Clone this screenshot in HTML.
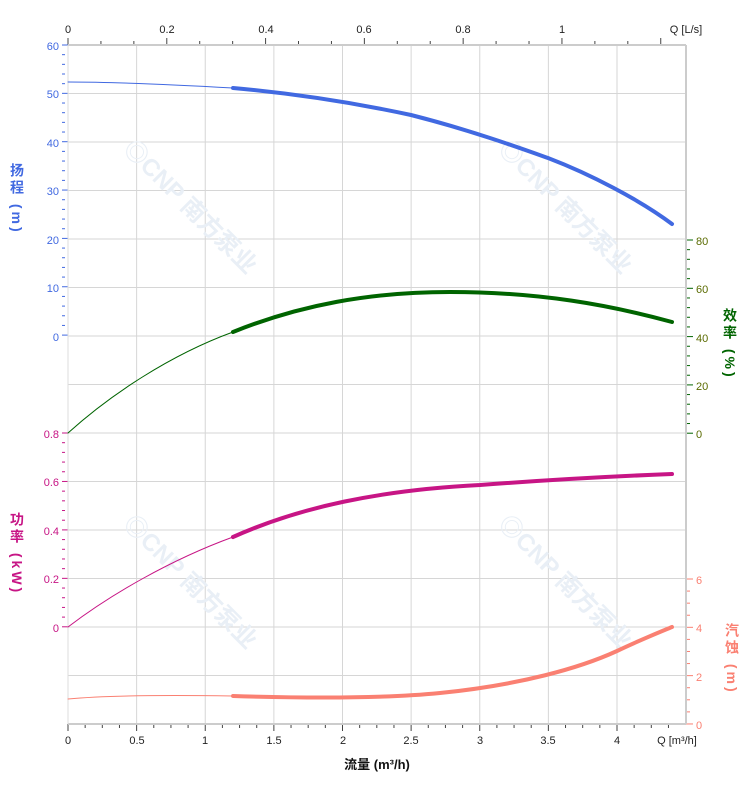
<!DOCTYPE html>
<html><head><meta charset="utf-8"><style>
body{margin:0;background:#fff;width:752px;height:797px;overflow:hidden}
svg{font-family:"Liberation Sans","Noto Sans CJK SC",sans-serif}
</style></head><body>
<svg id="s" width="752" height="797" xmlns="http://www.w3.org/2000/svg">
<g id="grid" stroke="#d6d6d6" stroke-width="1"></g>
<g font-size="24" font-weight="bold" fill="#e9eff6">
<text transform="translate(122,150) rotate(45)">◎CNP 南方泵业</text>
<text transform="translate(497,150) rotate(45)">◎CNP 南方泵业</text>
<text transform="translate(122,525) rotate(45)">◎CNP 南方泵业</text>
<text transform="translate(497,525) rotate(45)">◎CNP 南方泵业</text>
</g>
<g id="ticks" stroke-width="1"></g>
<line x1="68" y1="45" x2="686" y2="45" stroke="#ccc" stroke-width="2"/>
<line x1="68" y1="724" x2="686" y2="724" stroke="#ccc" stroke-width="2"/>
<line x1="686" y1="45" x2="686" y2="724" stroke="#ccc" stroke-width="2"/>
<line x1="68" y1="45" x2="68" y2="724" stroke="#ddd" stroke-width="1"/>
<g fill="none" stroke-linecap="round">
<path d="M68,82 C120,82 180,85 233,88" stroke="#4169e1" stroke-width="1"/>
<path d="M233,88 C300,94 360,104 411,115 C470,130 520,148 548,158 C590,174 640,200 672,224" stroke="#4169e1" stroke-width="4"/>
<path d="M68,433 C110,395 170,355 233,332" stroke="#006400" stroke-width="1"/>
<path d="M233,332 C300,305 370,292 450,292 C540,292 610,305 672,322" stroke="#006400" stroke-width="4"/>
<path d="M68,627 C110,595 170,560 233,537" stroke="#c71585" stroke-width="1"/>
<path d="M233,537 C300,507 380,490 480,485 C560,479 620,476 672,474" stroke="#c71585" stroke-width="4"/>
<path d="M68,699 C110,695 170,695 233,696" stroke="#fa8072" stroke-width="1"/>
<path d="M233,696 C300,698 380,699 440,693 C520,685 580,668 617,651 C640,640 660,632 672,627" stroke="#fa8072" stroke-width="4"/>
</g>
<g font-size="11">
<g fill="#222" text-anchor="middle">
<text x="68" y="33">0</text><text x="167" y="33">0.2</text><text x="266" y="33">0.4</text><text x="364" y="33">0.6</text><text x="463" y="33">0.8</text><text x="562" y="33">1</text>
<text x="686" y="33">Q [L/s]</text>
<text x="68" y="744">0</text><text x="137" y="744">0.5</text><text x="205" y="744">1</text><text x="274" y="744">1.5</text><text x="343" y="744">2</text><text x="411" y="744">2.5</text><text x="480" y="744">3</text><text x="548" y="744">3.5</text><text x="617" y="744">4</text>
<text x="677" y="744">Q [m³/h]</text>
</g>
<g fill="#4169e1" text-anchor="end">
<text x="59" y="50">60</text><text x="59" y="98">50</text><text x="59" y="147">40</text><text x="59" y="195">30</text><text x="59" y="244">20</text><text x="59" y="292">10</text><text x="59" y="341">0</text>
</g>
<g fill="#c71585" text-anchor="end">
<text x="59" y="438">0.8</text><text x="59" y="486">0.6</text><text x="59" y="535">0.4</text><text x="59" y="583">0.2</text><text x="59" y="632">0</text>
</g>
<g fill="#5a6b00">
<text x="696" y="245">80</text><text x="696" y="293">60</text><text x="696" y="342">40</text><text x="696" y="390">20</text><text x="696" y="438">0</text>
</g>
<g fill="#fa8072">
<text x="696" y="584">6</text><text x="696" y="632">4</text><text x="696" y="681">2</text><text x="696" y="729">0</text>
</g>
</g>
<text x="377" y="769" font-size="13" font-weight="bold" text-anchor="middle" fill="#111">流量 (m³/h)</text>
<g font-size="14" font-weight="bold" letter-spacing="3">
<text x="17" y="163" fill="#4169e1" style="writing-mode:vertical-rl">扬程 (m)</text>
<text x="17" y="512" fill="#c71585" style="writing-mode:vertical-rl">功率 (kW)</text>
<text x="730" y="308" fill="#006400" style="writing-mode:vertical-rl">效率 (%)</text>
<text x="732" y="623" fill="#fa8072" style="writing-mode:vertical-rl">汽蚀 (m)</text>
</g>
</svg>
<script>
var ns="http://www.w3.org/2000/svg",g=document.getElementById('grid'),t=document.getElementById('ticks');
function L(p,x1,y1,x2,y2,c,w){var l=document.createElementNS(ns,'line');l.setAttribute('x1',x1);l.setAttribute('y1',y1);l.setAttribute('x2',x2);l.setAttribute('y2',y2);if(c)l.setAttribute('stroke',c);if(w)l.setAttribute('stroke-width',w);p.appendChild(l);}
for(var i=0;i<15;i++){var y=45+i*48.5;L(g,68,y,686,y);}
for(var i=1;i<9;i++){var x=68+i*68.625;L(g,x,45,x,724);}
for(var i=0;i<=35;i++){var x=68+i*17.156;L(t,x,724,x,(i%4==0)?731:728,'#444');}
for(var i=0;i<=18;i++){var x=68+i*32.93;L(t,x,45,x,(i%3==0)?38:41,'#444');}
for(var i=0;i<=30;i++){var y=45+i*9.67;L(t,62,y,(i%5==0)?68:65,y,'#4169e1');}
for(var i=0;i<=20;i++){var y=433+i*9.69;if(y>627.5)break;L(t,62,y,(i%5==0)?68:65,y,'#c71585');}
for(var i=0;i<=20;i++){var y=240+i*9.66;if(y>433.5)break;L(t,686,y,(i%5==0)?693:690,y,'#006400');}
for(var i=0;i<=15;i++){var y=579+i*12.08;if(y>724.5)break;L(t,686,y,(i%4==0)?693:690,y,'#fa8072');}
</script>
</body></html>
